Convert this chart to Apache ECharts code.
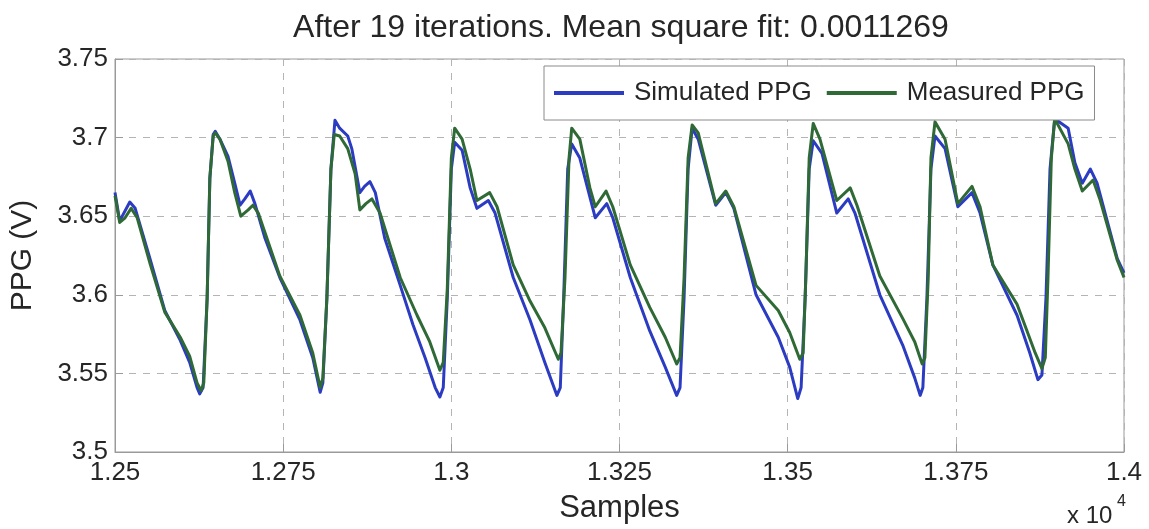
<!DOCTYPE html>
<html>
<head>
<meta charset="utf-8">
<script src="https://cdn.jsdelivr.net/npm/echarts@6/dist/echarts.min.js"></script>
<style>
html,body{margin:0;padding:0;background:#fff;}
#chart{width:1149px;height:529px;}
</style>
</head>
<body>
<div id="chart"></div>
<script>
// ---- data ----
const titleText = 'After 19 iterations. Mean square fit: 0.0011269';
const seriesNames = ['Simulated PPG', 'Measured PPG'];
const xTicks = [12500, 12750, 13000, 13250, 13500, 13750, 14000];
const yTicks = [3.5, 3.55, 3.6, 3.65, 3.7, 3.75];

const simSamples = [12500,12507,12522,12530,12552,12574,12597,12611,12622,12626,12631,12637,12641,12646,12649,12656,12668,12678,12686,12693,12701,12708,12723,12745,12775,12794,12805,12809,12815,12821,12827,12834,12846,12852,12864,12871,12879,12887,12901,12924,12943,12961,12976,12983,12988,12994,13000,13005,13016,13028,13038,13055,13065,13092,13117,13139,13157,13162,13167,13173,13179,13191,13214,13231,13240,13266,13295,13318,13335,13340,13346,13352,13358,13367,13393,13408,13420,13453,13486,13503,13515,13520,13526,13532,13538,13551,13573,13590,13600,13637,13671,13689,13697,13701,13707,13713,13719,13734,13753,13774,13786,13805,13841,13860,13872,13878,13884,13890,13897,13917,13927,13938,13950,13960,13990,14000];
const simValues = [3.665,3.647,3.659,3.655,3.623,3.590,3.571,3.557,3.541,3.537,3.541,3.598,3.674,3.702,3.704,3.699,3.688,3.671,3.657,3.661,3.666,3.658,3.636,3.611,3.584,3.560,3.538,3.544,3.598,3.680,3.711,3.706,3.701,3.693,3.665,3.669,3.672,3.665,3.636,3.606,3.581,3.560,3.541,3.535,3.541,3.598,3.680,3.697,3.692,3.668,3.655,3.660,3.652,3.611,3.584,3.557,3.536,3.541,3.598,3.680,3.696,3.687,3.649,3.658,3.649,3.611,3.577,3.554,3.536,3.541,3.598,3.680,3.706,3.699,3.657,3.665,3.655,3.600,3.573,3.554,3.534,3.541,3.598,3.680,3.698,3.690,3.652,3.661,3.652,3.600,3.568,3.547,3.536,3.541,3.598,3.680,3.701,3.693,3.656,3.665,3.652,3.619,3.587,3.563,3.546,3.549,3.598,3.680,3.712,3.706,3.684,3.671,3.680,3.671,3.623,3.614];

const measSamples = [12500,12507,12515,12524,12533,12552,12574,12597,12611,12622,12628,12632,12637,12641,12646,12649,12656,12668,12678,12687,12698,12705,12713,12745,12775,12794,12805,12809,12815,12821,12826,12834,12846,12857,12864,12873,12882,12894,12924,12949,12968,12983,12988,12994,13000,13005,13016,13028,13038,13057,13068,13092,13117,13139,13159,13163,13169,13175,13179,13191,13206,13214,13230,13240,13266,13295,13318,13335,13340,13346,13352,13358,13367,13393,13408,13420,13453,13486,13503,13518,13523,13527,13532,13538,13548,13573,13593,13603,13637,13671,13689,13700,13704,13709,13713,13719,13734,13753,13774,13786,13805,13841,13868,13878,13883,13887,13892,13897,13917,13927,13938,13954,13964,13990,14000];
const measValues = [3.663,3.646,3.649,3.655,3.649,3.620,3.589,3.573,3.561,3.544,3.539,3.544,3.598,3.674,3.701,3.703,3.699,3.685,3.665,3.650,3.654,3.657,3.652,3.612,3.587,3.563,3.541,3.547,3.598,3.680,3.702,3.701,3.693,3.677,3.654,3.658,3.661,3.652,3.611,3.587,3.570,3.552,3.557,3.604,3.687,3.706,3.699,3.680,3.660,3.665,3.656,3.619,3.596,3.579,3.559,3.563,3.611,3.687,3.706,3.699,3.668,3.656,3.666,3.656,3.619,3.592,3.573,3.556,3.560,3.611,3.687,3.708,3.703,3.658,3.666,3.656,3.606,3.590,3.576,3.559,3.563,3.611,3.687,3.709,3.699,3.660,3.668,3.657,3.612,3.585,3.570,3.556,3.560,3.611,3.687,3.710,3.699,3.658,3.669,3.656,3.619,3.594,3.563,3.553,3.560,3.611,3.687,3.712,3.696,3.680,3.666,3.673,3.661,3.622,3.611];

// ---- chart ----
const FONT = '"Liberation Sans", Arial, Helvetica, sans-serif';
const TXT = '#262626';
const zip = (xs, ys) => xs.map((x, i) => [x, ys[i]]);

const chart = echarts.init(document.getElementById('chart'), null, {renderer: 'canvas'});
chart.setOption({
  backgroundColor: '#ffffff',
  animation: false,
  title: {
    text: titleText,
    left: 616, top: 7, textAlign: 'center',
    textStyle: {fontFamily: FONT, fontSize: 32, fontWeight: 'normal', color: TXT}
  },
  legend: {
    left: 544, top: 66,
    padding: [12, 10, 12, 10],
    itemWidth: 70, itemHeight: 4, itemGap: 15,
    icon: 'rect',
    borderColor: '#8a8a8a', borderWidth: 1,
    backgroundColor: '#ffffff',
    data: seriesNames,
    textStyle: {fontFamily: FONT, fontSize: 26, color: TXT, padding: [0, 0, 0, 5], lineHeight: 30}
  },
  grid: {
    left: 115, right: 25, top: 59, bottom: 74,
    show: true, borderColor: '#9a9a9a', borderWidth: 1, backgroundColor: 'transparent'
  },
  xAxis: {
    type: 'value', min: xTicks[0], max: xTicks[xTicks.length - 1], interval: 250,
    name: 'Samples', nameLocation: 'middle', nameGap: 41,
    nameTextStyle: {fontFamily: FONT, fontSize: 31, color: TXT},
    axisLine: {show: true, lineStyle: {color: '#9a9a9a', width: 1}},
    axisTick: {show: true, inside: true, length: 8, lineStyle: {color: '#9a9a9a'}},
    axisLabel: {
      fontFamily: FONT, fontSize: 26, color: TXT, margin: 8,
      formatter: v => String(parseFloat((v / 10000).toFixed(4)))
    },
    splitLine: {show: true, lineStyle: {color: '#b4b4b4', width: 1, type: [7, 7]}}
  },
  yAxis: {
    type: 'value', min: yTicks[0], max: yTicks[yTicks.length - 1], interval: 0.05,
    name: 'PPG (V)', nameLocation: 'middle', nameGap: 77,
    nameTextStyle: {fontFamily: FONT, fontSize: 30, color: TXT},
    axisLine: {show: true, lineStyle: {color: '#9a9a9a', width: 1}},
    axisTick: {show: true, inside: true, length: 8, lineStyle: {color: '#9a9a9a'}},
    axisLabel: {
      fontFamily: FONT, fontSize: 26, color: TXT, margin: 7,
      formatter: v => String(parseFloat(v.toFixed(2)))
    },
    splitLine: {show: true, lineStyle: {color: '#b4b4b4', width: 1, type: [7, 7]}}
  },
  series: [
    {
      name: seriesNames[0], type: 'line', data: zip(simSamples, simValues),
      symbol: 'none', color: '#2b3cc2',
      lineStyle: {width: 3, color: '#2b3cc2', join: 'round'}
    },
    {
      name: seriesNames[1], type: 'line', data: zip(measSamples, measValues),
      symbol: 'none', color: '#2f6a36',
      lineStyle: {width: 3, color: '#2f6a36', join: 'round'}
    }
  ],
  graphic: [
    {type: 'text', left: 1067, top: 504,
     style: {text: 'x 10', fontFamily: FONT, fontSize: 24, fill: TXT}},
    {type: 'text', left: 1117, top: 494,
     style: {text: '4', fontFamily: FONT, fontSize: 16, fill: TXT}}
  ]
});
</script>
</body>
</html>
